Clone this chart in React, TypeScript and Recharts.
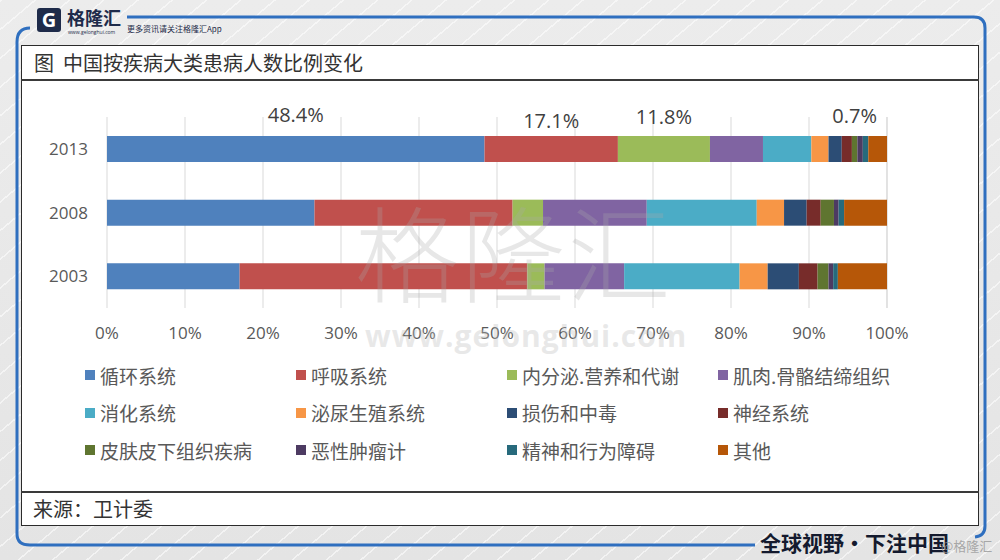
import { BarChart, Bar, XAxis, YAxis, CartesianGrid, LabelList } from 'recharts'

const years = ['2013', '2008', '2003']
const xTicks = [0, 10, 20, 30, 40, 50, 60, 70, 80, 90, 100]

// share of patients (%), order: 2013, 2008, 2003
const circulatory = [48.4, 26.6, 17.0]
const respiratory = [17.1, 25.4, 36.9]
const endocrine = [11.8, 3.9, 2.2]
const musculoskeletal = [6.8, 13.3, 10.2]
const digestive = [6.2, 14.1, 14.8]
const urogenital = [2.2, 3.5, 3.6]
const injury = [1.7, 2.9, 4.0]
const nervous = [1.3, 1.8, 2.4]
const skin = [0.7, 1.7, 1.4]
const neoplasm = [0.7, 0.6, 0.6]
const mental = [0.7, 0.7, 0.6]
const other = [2.4, 5.5, 6.3]

const series = [
  { key: 'circulatory', name: '循环系统', values: circulatory, color: '#4F81BD' },
  { key: 'respiratory', name: '呼吸系统', values: respiratory, color: '#C0504D' },
  { key: 'endocrine', name: '内分泌.营养和代谢', values: endocrine, color: '#9BBB59' },
  { key: 'musculoskeletal', name: '肌肉.骨骼结缔组织', values: musculoskeletal, color: '#8064A2' },
  { key: 'digestive', name: '消化系统', values: digestive, color: '#4BACC6' },
  { key: 'urogenital', name: '泌尿生殖系统', values: urogenital, color: '#F79646' },
  { key: 'injury', name: '损伤和中毒', values: injury, color: '#2C4D75' },
  { key: 'nervous', name: '神经系统', values: nervous, color: '#772C2A' },
  { key: 'skin', name: '皮肤皮下组织疾病', values: skin, color: '#5F7530' },
  { key: 'neoplasm', name: '恶性肿瘤计', values: neoplasm, color: '#4D3B62' },
  { key: 'mental', name: '精神和行为障碍', values: mental, color: '#276A7C' },
  { key: 'other', name: '其他', values: other, color: '#B65708' },
]

// which 2013 segments carry a value label, and how far above the bar it sits
const labelLift: Record<string, number> = {
  circulatory: 14,
  respiratory: 8,
  endocrine: 12,
  skin: 13,
}

const rows = years.map((year, i) => {
  const row: Record<string, string | number> = { year }
  series.forEach((s) => {
    row[s.key] = s.values[i]
  })
  return row
})

const cjk = '"Noto Sans CJK SC", "Noto Sans", sans-serif'
const latin = '"Open Sans", "Noto Sans", sans-serif'

const makeLabel = (key: string) => (props: any) => {
  const { x, y, width, value, index } = props
  if (index !== 0 || labelLift[key] === undefined) return null
  return (
    <text
      x={x + width / 2}
      y={y - labelLift[key]}
      textAnchor="middle"
      fill="#404040"
      fontSize={20}
      fontFamily={latin}
    >
      {`${Number(value).toFixed(1)}%`}
    </text>
  )
}

function Frame() {
  return (
    <svg width={1000} height={560} style={{ position: 'absolute', left: 0, top: 0 }}>
      <path
        d="M30 28 Q17 28 17 42 L17 534 Q17 545 30 545 L755 545"
        fill="none"
        stroke="#2F6FBF"
        strokeWidth={3}
      />
      <path
        d="M127 17 L974 17 Q985 17 985 28 L985 526 Q985 536 975 537"
        fill="none"
        stroke="#2F6FBF"
        strokeWidth={3}
      />
    </svg>
  )
}

function Header() {
  return (
    <div style={{ position: 'absolute', left: 0, top: 0, width: 1000, height: 40 }}>
      <div
        style={{
          position: 'absolute',
          left: 37,
          top: 8,
          width: 24,
          height: 24,
          background: '#1E2B4A',
          borderRadius: 3,
          color: '#fff',
          fontFamily: latin,
          fontWeight: 700,
          fontSize: 20,
          lineHeight: '24px',
          textAlign: 'center',
        }}
      >
        G
      </div>
      <div
        style={{
          position: 'absolute',
          left: 67,
          top: 4,
          fontFamily: cjk,
          fontWeight: 700,
          fontSize: 18,
          color: '#1E2B4A',
          lineHeight: '26px',
        }}
      >
        格隆汇
      </div>
      <div
        style={{
          position: 'absolute',
          left: 68,
          top: 29,
          fontFamily: latin,
          fontSize: 5,
          color: '#1E2B4A',
        }}
      >
        www.gelonghui.com
      </div>
      <div
        style={{
          position: 'absolute',
          left: 127,
          top: 23,
          fontFamily: cjk,
          fontSize: 8,
          color: '#1E2B4A',
        }}
      >
        更多资讯请关注格隆汇App
      </div>
    </div>
  )
}

function LegendBlock() {
  return (
    <div style={{ position: 'absolute', left: 85, top: 362, width: 860 }}>
      {series.map((s, i) => (
        <div
          key={s.key}
          style={{
            position: 'absolute',
            left: (i % 4) * 211,
            top: Math.floor(i / 4) * 37.5,
            display: 'flex',
            alignItems: 'center',
            height: 26,
            whiteSpace: 'nowrap',
          }}
        >
          <span style={{ width: 10, height: 10, background: s.color, marginRight: 5 }} />
          <span style={{ fontFamily: cjk, fontSize: 19, color: '#595959' }}>{s.name}</span>
        </div>
      ))}
    </div>
  )
}

export default function App() {
  return (
    <div
      style={{
        position: 'absolute',
        left: 0,
        top: 0,
        width: 1000,
        height: 560,
        overflow: 'hidden',
        background:
          'repeating-linear-gradient(140deg, rgba(255,255,255,0.55) 0px, rgba(255,255,255,0.55) 1.5px, rgba(255,255,255,0) 1.5px, rgba(255,255,255,0) 22px), linear-gradient(180deg, #ececec, #e4e4e4)',
      }}
    >
      <Header />
      <Frame />
      <div
        style={{
          position: 'absolute',
          left: 21,
          top: 45,
          width: 958,
          height: 481,
          background: '#fff',
          border: '1px solid #2b2b2b',
          boxSizing: 'border-box',
        }}
      />
      <div style={{ position: 'absolute', left: 21, top: 79, width: 958, height: 2, background: '#3a3a3a' }} />
      <div style={{ position: 'absolute', left: 21, top: 491, width: 958, height: 2, background: '#3a3a3a' }} />
      <div
        style={{
          position: 'absolute',
          left: 34,
          top: 48,
          fontFamily: cjk,
          fontSize: 20,
          color: '#333',
          lineHeight: '30px',
          whiteSpace: 'pre',
        }}
      >
        {'图  中国按疾病大类患病人数比例变化'}
      </div>
      <div
        style={{
          position: 'absolute',
          left: 33,
          top: 494,
          fontFamily: cjk,
          fontSize: 20,
          color: '#333',
          lineHeight: '30px',
        }}
      >
        来源：卫计委
      </div>

      <div style={{ position: 'absolute', left: 0, top: 0 }}>
        <BarChart
          width={1000}
          height={560}
          data={rows}
          layout="vertical"
          margin={{ top: 117, right: 113, bottom: 222, left: 47 }}
          barSize={26}
        >
          <CartesianGrid horizontal={false} stroke="#d9d9d9" />
          <XAxis
            type="number"
            domain={[0, 100]}
            ticks={xTicks}
            tickFormatter={(v) => `${v}%`}
            axisLine={false}
            tickLine={false}
            tickMargin={13}
            height={30}
            interval={0}
            tick={{ fill: '#595959', fontSize: 17, fontFamily: latin }}
          />
          <YAxis
            type="category"
            dataKey="year"
            width={60}
            axisLine={false}
            tickLine={false}
            tickMargin={13}
            tick={{ fill: '#595959', fontSize: 17, fontFamily: latin }}
          />
          {series.map((s) => (
            <Bar key={s.key} dataKey={s.key} name={s.name} stackId="a" fill={s.color} isAnimationActive={false}>
              <LabelList dataKey={s.key} content={makeLabel(s.key)} />
            </Bar>
          ))}
        </BarChart>
      </div>

      {/* watermark */}
      <div
        style={{
          position: 'absolute',
          left: 355,
          top: 180,
          fontFamily: cjk,
          fontWeight: 300,
          fontSize: 104,
          letterSpacing: 2,
          color: 'rgba(170,170,170,0.28)',
          lineHeight: '140px',
          pointerEvents: 'none',
          whiteSpace: 'nowrap',
        }}
      >
        格隆汇
      </div>
      <div
        style={{
          position: 'absolute',
          left: 365,
          top: 316,
          fontFamily: latin,
          fontWeight: 700,
          fontSize: 30,
          letterSpacing: 1,
          color: 'rgba(190,190,190,0.35)',
          lineHeight: '40px',
          pointerEvents: 'none',
          whiteSpace: 'nowrap',
        }}
      >
        www.gelonghui.com
      </div>

      <LegendBlock />

      <div
        style={{
          position: 'absolute',
          left: 760,
          top: 526,
          fontFamily: cjk,
          fontWeight: 700,
          fontSize: 21,
          color: '#141a2e',
          lineHeight: '32px',
          whiteSpace: 'pre',
        }}
      >
        {'全球视野•下注中国'}
      </div>
      <div
        style={{
          position: 'absolute',
          left: 941,
          top: 536,
          fontFamily: cjk,
          fontSize: 13,
          color: 'rgba(150,150,150,0.8)',
          lineHeight: '20px',
          whiteSpace: 'nowrap',
        }}
      >
        @格隆汇
      </div>
    </div>
  )
}
